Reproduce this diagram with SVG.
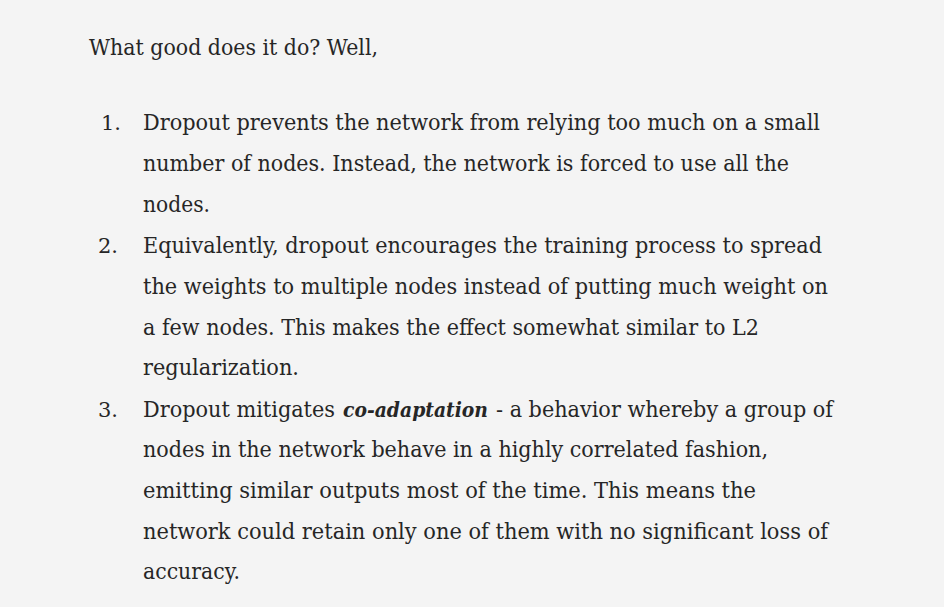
<svg xmlns="http://www.w3.org/2000/svg" width="944" height="607" viewBox="0 0 944 607">
<style>
text{font-family:"DejaVu Serif","Liberation Serif",serif;font-size:23px;fill:#262626}
.n{font-size:21px}
.em{font-style:italic;font-weight:bold;font-size:20.5px}
</style>
<rect width="944" height="607" fill="#f4f4f4"/>
<g id="intro">
<text x="89" y="55" textLength="289" lengthAdjust="spacingAndGlyphs">What good does it do? Well,</text>
</g>
<g id="item1">
<text class="n" x="101" y="130">1.</text>
<text x="143" y="130" textLength="677" lengthAdjust="spacingAndGlyphs">Dropout prevents the network from relying too much on a small</text>
<text x="143" y="171" textLength="646" lengthAdjust="spacingAndGlyphs">number of nodes. Instead, the network is forced to use all the</text>
<text x="143" y="212" textLength="67" lengthAdjust="spacingAndGlyphs">nodes.</text>
</g>
<g id="item2">
<text class="n" x="98" y="253">2.</text>
<text x="143" y="253" textLength="679" lengthAdjust="spacingAndGlyphs">Equivalently, dropout encourages the training process to spread</text>
<text x="143" y="294" textLength="685" lengthAdjust="spacingAndGlyphs">the weights to multiple nodes instead of putting much weight on</text>
<text x="143" y="335" textLength="616" lengthAdjust="spacingAndGlyphs">a few nodes. This makes the effect somewhat similar to L2</text>
<text x="143" y="375" textLength="156" lengthAdjust="spacingAndGlyphs">regularization.</text>
</g>
<g id="item3">
<text class="n" x="98" y="417">3.</text>
<text x="143" y="417" textLength="192" lengthAdjust="spacingAndGlyphs">Dropout mitigates</text>
<text class="em" x="343" y="417" textLength="145" lengthAdjust="spacingAndGlyphs">co-adaptation</text>
<text x="496" y="417" textLength="337" lengthAdjust="spacingAndGlyphs">- a behavior whereby a group of</text>
<text x="143" y="457" textLength="625" lengthAdjust="spacingAndGlyphs">nodes in the network behave in a highly correlated fashion,</text>
<text x="143" y="498" textLength="613" lengthAdjust="spacingAndGlyphs">emitting similar outputs most of the time. This means the</text>
<text x="143" y="539" textLength="685" lengthAdjust="spacingAndGlyphs">network could retain only one of them with no significant loss of</text>
<text x="143" y="579" textLength="97" lengthAdjust="spacingAndGlyphs">accuracy.</text>
</g>
</svg>
